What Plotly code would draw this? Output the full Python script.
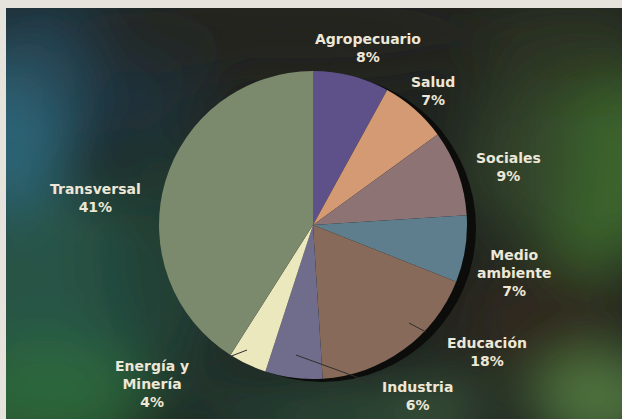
import base64
import plotly.graph_objects as go

# ---- data ----
categories = ["Agropecuario", "Salud", "Sociales", "Medio ambiente", "Educación",
              "Industria", "Energía y Minería", "Transversal"]
label_lines = [["Agropecuario"], ["Salud"], ["Sociales"], ["Medio", "ambiente"], ["Educación"],
               ["Industria"], ["Energía y", "Minería"], ["Transversal"]]
shares = [8, 7, 9, 7, 18, 6, 4, 41]
colors = ["#5e5088", "#d49a74", "#8e7374", "#5e7e8d", "#886a5b",
          "#6f6d8b", "#ebe8be", "#7b896c"]

W, H = 622, 419
CX, CY, R = 313, 225, 154

# label block centres (pixels, styling only)
label_pos = [(368, 48), (433, 90.5), (508, 167), (514, 273), (487, 351.5),
             (417, 395.5), (152, 384), (95, 198)]

# leader lines (pixels) for the small labels
leaders = [((409, 323), (426, 332)), ((296, 355), (373, 383)), ((247, 350), (203, 367))]

# ---- background texture as an SVG image ----
blobs = [
    (80, 60, 140, 90, "#1f3440", 0.9),
    (10, 140, 60, 90, "#2f6c80", 0.9),
    (40, 70, 50, 40, "#2a4d5c", 0.8),
    (70, 290, 120, 100, "#275a4a", 0.9),
    (40, 400, 110, 60, "#2d6a3c", 0.9),
    (170, 260, 70, 120, "#213d36", 0.8),
    (300, 30, 220, 60, "#22251f", 0.9),
    (600, 160, 80, 110, "#3f6b2e", 0.9),
    (520, 160, 60, 80, "#33432a", 0.8),
    (570, 50, 90, 50, "#2c3522", 0.9),
    (540, 320, 90, 60, "#302a1f", 0.9),
    (600, 400, 70, 45, "#557f42", 0.9),
    (330, 415, 130, 30, "#2f5540", 0.8),
    (440, 410, 50, 25, "#4a7048", 0.7),
    (230, 400, 80, 30, "#1f3a30", 0.8),
]
svg = [f'<svg xmlns="http://www.w3.org/2000/svg" width="{W}" height="{H}" viewBox="0 0 {W} {H}">',
       '<defs><filter id="b" x="-50%" y="-50%" width="200%" height="200%">'
       '<feGaussianBlur stdDeviation="28"/></filter></defs>',
       f'<rect x="0" y="0" width="{W}" height="{H}" fill="#1e231f"/>',
       '<g filter="url(#b)">']
for (x, y, rx, ry, c, o) in blobs:
    svg.append(f'<ellipse cx="{x}" cy="{y}" rx="{rx}" ry="{ry}" fill="{c}" fill-opacity="{o}"/>')
svg.append('</g>')
svg.append(f'<rect x="0" y="0" width="{W}" height="8" fill="#e6e3dc"/>')
svg.append(f'<rect x="0" y="0" width="6" height="{H}" fill="#e6e3dc"/>')
svg.append('</svg>')
svg_uri = "data:image/svg+xml;base64," + base64.b64encode("".join(svg).encode()).decode()

fig = go.Figure()
fig.add_trace(go.Pie(
    labels=categories, values=shares, sort=False, direction="clockwise", rotation=0,
    marker=dict(colors=colors, line=dict(width=0)),
    textinfo="none", hoverinfo="label+percent", showlegend=False,
    domain=dict(x=[(CX - R) / W, (CX + R) / W], y=[(H - CY - R) / H, (H - CY + R) / H]),
))

def px(x):
    return x / W

def py(y):
    return 1 - y / H

shapes = [dict(type="circle", xref="paper", yref="paper", layer="below",
               x0=px(CX - R + 9), x1=px(CX + R + 9), y0=py(CY + R + 3), y1=py(CY - R + 3),
               fillcolor="#0c0d0b", line=dict(width=0))]
for (a, b) in leaders:
    shapes.append(dict(type="line", xref="paper", yref="paper", x0=px(a[0]), y0=py(a[1]),
                       x1=px(b[0]), y1=py(b[1]), line=dict(color="#2e2e2c", width=1)))

annotations = []
for lines, v, (x, y) in zip(label_lines, shares, label_pos):
    txt = "<br>".join(lines + [f"{v}%"])
    annotations.append(dict(text=f"<b>{txt}</b>", x=px(x), y=py(y),
                            xref="paper", yref="paper", showarrow=False,
                            xanchor="center", yanchor="middle", align="center",
                            font=dict(family="DejaVu Sans", size=14, color="#ede7d7")))

fig.update_layout(
    width=W, height=H, margin=dict(l=0, r=0, t=0, b=0),
    paper_bgcolor="#1e231f", plot_bgcolor="#1e231f",
    images=[dict(source=svg_uri, xref="paper", yref="paper", x=0, y=1, sizex=1, sizey=1,
                 xanchor="left", yanchor="top", sizing="stretch", layer="below")],
    shapes=shapes, annotations=annotations,
)
fig.write_html("out.html", config={"displayModeBar": False},
               post_script="document.body.style.margin='0';document.body.style.overflow='hidden';")
